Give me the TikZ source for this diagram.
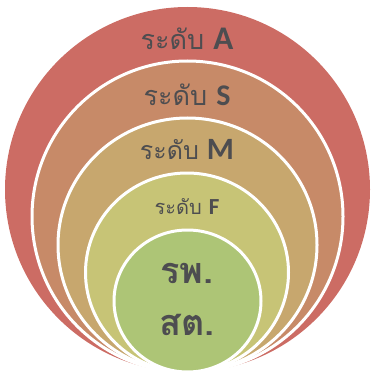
\documentclass[tikz,border=0pt]{standalone}
\usepackage{fontspec}
\newfontfamily\thaifont[Script=Thai]{Loma}
\newfontfamily\latfont{Carlito}
\definecolor{cA}{RGB}{204,108,100}
\definecolor{cS}{RGB}{199,138,104}
\definecolor{cM}{RGB}{199,167,110}
\definecolor{cF}{RGB}{199,196,118}
\definecolor{cG}{RGB}{173,197,118}
\definecolor{txt}{RGB}{77,77,80}
\tikzset{
  ring/.style={draw=white, line width=3pt},
  lbl/.style={text=txt, inner sep=0pt, anchor=base},
}
\newcommand{\lev}[4]{{\fontsize{#2}{#2}\thaifont ระดับ}\hspace{#4pt}{\fontsize{#3}{#3}\latfont\bfseries #1}}
\begin{document}
\begin{tikzpicture}[x=1pt,y=-1pt]
\useasboundingbox (0,0) rectangle (372,374);
\fill[cA] (187.5,189.5) ellipse [x radius=182.5, y radius=182.5];
\filldraw[ring, fill=cS] (187.5,216.5) ellipse [x radius=155.5, y radius=155.5];
\filldraw[ring, fill=cM] (187.5,245) ellipse [x radius=129.5, y radius=127];
\filldraw[ring, fill=cF] (187,272.5) ellipse [x radius=101.5, y radius=99.5];
\filldraw[ring, fill=cG] (187.5,301) ellipse [x radius=73.5, y radius=71];
\node[lbl] (la) at (187,50) {\lev{A}{27}{33}{9}};
\node[lbl] (ls) at (187,106) {\lev{S}{27}{30}{9}};
\node[lbl] (lm) at (187,159) {\lev{M}{25}{31}{8}};
\node[lbl] (lf) at (187,214) {\lev{F}{20}{23}{7}};
\node[lbl] (g1) at (187,283) {\fontsize{36}{36}\thaifont\bfseries รพ.};
\node[lbl] (g2) at (187,335) {\fontsize{36}{36}\thaifont\bfseries สต.};
\end{tikzpicture}
\end{document}
